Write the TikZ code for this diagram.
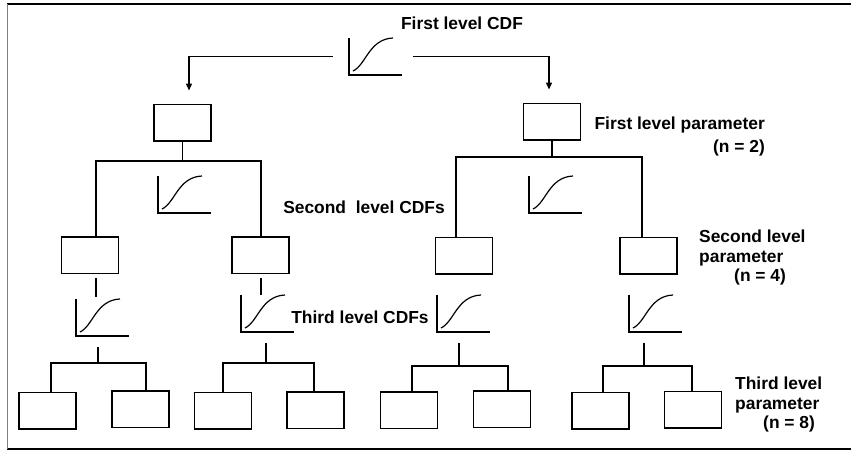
\documentclass[tikz,border=0pt]{standalone}
\usepackage{fontspec}
\setmainfont{Liberation Sans}
\usepackage{tikz}
\usetikzlibrary{positioning}
\usetikzlibrary{calc}
\usetikzlibrary{arrows.meta}
\tikzset{%
  link/.style = {line width=1.4pt},
  splitarrow/.style = {-{Triangle[length=7pt,width=6pt]},line width=1.4pt},
  p/.style = {rectangle,draw,line width=1.5pt,minimum width=57pt,
        minimum height=36.5pt,inner sep=0pt},
  cdf/.style = {minimum width=53pt,minimum height=37pt,inner sep=0pt,
        outer sep=0pt},
  lbl/.style = {font=\bfseries\fontsize{17.4}{19.5}\selectfont,inner sep=0pt}
}
% small cdf sketch: name, x and y of the axis corner (top left)
\newcommand{\cdfsketch}[3]{%
  \node[cdf] (#1) at (#2+26.5,#3+18.5) {};
  \draw[line width=1.4pt] (#1.north west) -- (#1.south west) -- (#1.south east);
  \draw[line width=1.2pt,shift={(#1.north west)}]
    (4,33) .. controls (17,27) and (20,1) .. (44,0);
}

\begin{document}
\begin{tikzpicture}[x=1pt,y=-1pt]
\useasboundingbox (0,0) rectangle (851,450);
\draw[line width=1.4pt] (851,4) -- (7,4);
\draw[line width=1.4pt] (7,449) -- (851,449);
\draw[line width=0.8pt,gray] (7,4) -- (7,449);

% first level
\cdfsketch{c1}{349}{38}
\node[lbl] (t1) at (462,23) {First level CDF};
\node[p] (l1a) at (182.5,122.5) {};
\node[p] (l1b) at (552,121.5) {};
\draw[splitarrow,shorten <=16pt,shorten >=13pt] (c1.west) -| ([xshift=6.5pt]l1a.north);
\draw[splitarrow,shorten <=11pt,shorten >=13pt] (c1.east) -| ([xshift=-3pt]l1b.north);
\node[lbl,align=right,anchor=north east] (t2) at (765,117)
  {First level parameter\\[3pt](n = 2)};

% second level
\node[p] (l2a) at (90,255) {};
\node[p] (l2b) at (260.5,255) {};
\node[p] (l2c) at (464,255.5) {};
\node[p] (l2d) at (648.5,255.5) {};
\cdfsketch{c2a}{158}{176}
\cdfsketch{c2b}{529}{176}
\node[lbl] (t3) at (364,207) {Second\ \ level CDFs};
\node[lbl,align=left,anchor=north west] (t4) at (699,230)
  {Second level\\parameter\\\hspace{35pt}(n = 4)};
\coordinate (j1l) at (96,161);
\coordinate (j1r) at (261,161);
\coordinate (j2l) at (456,157);
\coordinate (j2r) at (642,157);
\draw[link] (l1a.south) -- (l1a.south |- j1l);
\draw[link] (l1b.south) -- (l1b.south |- j2l);
\draw[link] (j1l |- l2a.north) -- (j1l) -- (j1r) -- (j1r |- l2b.north);
\draw[link] (j2l |- l2c.north) -- (j2l) -- (j2r) -- (j2r |- l2d.north);

% third level
\cdfsketch{c3a}{76}{299}
\cdfsketch{c3b}{241}{295}
\cdfsketch{c3c}{437}{295}
\cdfsketch{c3d}{629}{295}
\draw[link,shorten <=4pt,shorten >=2pt] (j1l |- l2a.south) -- (j1l |- c3a.north);
\draw[link,shorten <=4pt] (j1r |- l2b.south) -- (j1r |- c3b.north);
\node[lbl] (t5) at (360,317) {Third level CDFs};
\node[p] (l3a1) at (47.5,410.5) {};
\node[p] (l3a2) at (140.5,409) {};
\node[p] (l3b1) at (223,410.5) {};
\node[p] (l3b2) at (315.5,410) {};
\node[p] (l3c1) at (409,410) {};
\node[p] (l3c2) at (502,409) {};
\node[p] (l3d1) at (600.5,410.5) {};
\node[p] (l3d2) at (693,409.5) {};
\foreach \c/\sx/\by/\lx/\rx/\ka/\kb in {c3a/98/363/51/146/l3a1/l3a2,
    c3b/266/363/223/314/l3b1/l3b2, c3c/459/366/412/508/l3c1/l3c2,
    c3d/644/366/603/692/l3d1/l3d2}{
  \draw[link,shorten <=11pt] (\sx,0 |- \c.south) -- (\sx,\by);
  \draw[link] (\lx,0 |- \ka.north) -- (\lx,\by) -- (\rx,\by) -- (\rx,0 |- \kb.north);
}
\node[lbl,align=left,anchor=north west] (t6) at (735,377)
  {Third level\\parameter\\\hspace{28pt}(n = 8)};
\end{tikzpicture}
\end{document}
